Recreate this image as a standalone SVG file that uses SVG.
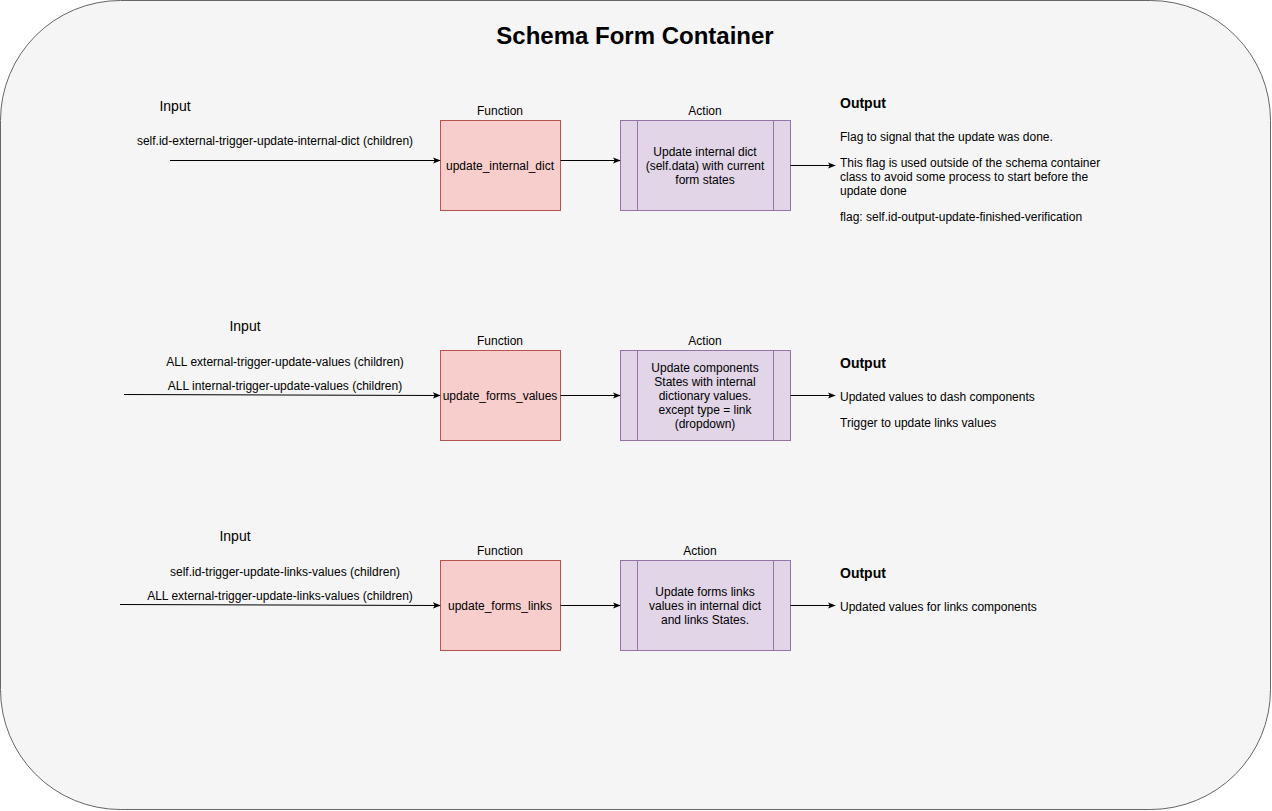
<svg xmlns="http://www.w3.org/2000/svg" width="1272" height="811" viewBox="0 0 1272 811">
  <defs>
    <marker id="arrow" viewBox="0 0 10 10" refX="9" refY="5" markerWidth="8" markerHeight="8" markerUnits="userSpaceOnUse" orient="auto">
      <path d="M0,1 L10,5 L0,9 L2.5,5 Z" fill="#000"/>
    </marker>
  </defs>
  <style>
    text { font-family: "Liberation Sans", Arial, sans-serif; fill: #000; }
    .t { font-size: 12px; }
    .c { text-anchor: middle; }
    .h { font-size: 14px; }
    .b { font-weight: bold; }
    .fn { fill: #f8cecc; stroke: #b85450; stroke-width: 1; }
    .act { fill: #e1d5e7; stroke: #9673a6; stroke-width: 1; }
    .edge { stroke: #000; stroke-width: 1; fill: none; marker-end: url(#arrow); }
  </style>

  <g id="container">
    <rect x="0.5" y="0.5" width="1270" height="809" rx="120" ry="120" fill="#f5f5f5" stroke="#666666"/>
    <text x="635" y="44" class="c b" font-size="24">Schema Form Container</text>
  </g>

  <!-- Row 1: update_internal_dict -->
  <g id="input1">
    <text x="175" y="111" class="h c">Input</text>
    <text x="275" y="145" class="t c">self.id-external-trigger-update-internal-dict (children)</text>
  </g>
  <g id="func1">
    <text x="500" y="115" class="t c">Function</text>
    <rect x="440.5" y="120.5" width="120" height="90" class="fn"/>
    <text x="500" y="170" class="t c">update_internal_dict</text>
  </g>
  <g id="action1">
    <text x="705" y="115" class="t c">Action</text>
    <rect x="620.5" y="120.5" width="170" height="90" class="act"/>
    <line x1="637.5" y1="120.5" x2="637.5" y2="210.5" stroke="#9673a6"/>
    <line x1="773.5" y1="120.5" x2="773.5" y2="210.5" stroke="#9673a6"/>
    <text x="705" y="156" class="t c">Update internal dict</text>
    <text x="705" y="170" class="t c">(self.data) with current</text>
    <text x="705" y="184" class="t c">form states</text>
  </g>
  <g id="output1">
    <text x="840" y="108" class="h b">Output</text>
    <text x="840" y="141" class="t">Flag to signal that the update was done.</text>
    <text x="840" y="167" class="t">This flag is used outside of the schema container</text>
    <text x="840" y="181" class="t">class to avoid some process to start before the</text>
    <text x="840" y="195" class="t">update done</text>
    <text x="840" y="221" class="t">flag: self.id-output-update-finished-verification</text>
  </g>

  <!-- Row 2: update_forms_values -->
  <g id="input2">
    <text x="245" y="331" class="h c">Input</text>
    <text x="285" y="366" class="t c">ALL external-trigger-update-values (children)</text>
    <text x="285" y="390" class="t c">ALL internal-trigger-update-values (children)</text>
  </g>
  <g id="func2">
    <text x="500" y="345" class="t c">Function</text>
    <rect x="440.5" y="350.5" width="120" height="90" class="fn"/>
    <text x="500" y="400" class="t c">update_forms_values</text>
  </g>
  <g id="action2">
    <text x="705" y="345" class="t c">Action</text>
    <rect x="620.5" y="350.5" width="170" height="90" class="act"/>
    <line x1="637.5" y1="350.5" x2="637.5" y2="440.5" stroke="#9673a6"/>
    <line x1="773.5" y1="350.5" x2="773.5" y2="440.5" stroke="#9673a6"/>
    <text x="705" y="372" class="t c">Update components</text>
    <text x="705" y="386" class="t c">States with internal</text>
    <text x="705" y="400" class="t c">dictionary values.</text>
    <text x="705" y="414" class="t c">except type = link</text>
    <text x="705" y="428" class="t c">(dropdown)</text>
  </g>
  <g id="output2">
    <text x="840" y="368" class="h b">Output</text>
    <text x="840" y="401" class="t">Updated values to dash components</text>
    <text x="840" y="427" class="t">Trigger to update links values</text>
  </g>

  <!-- Row 3: update_forms_links -->
  <g id="input3">
    <text x="235" y="541" class="h c">Input</text>
    <text x="285" y="576" class="t c">self.id-trigger-update-links-values (children)</text>
    <text x="280" y="600" class="t c">ALL external-trigger-update-links-values (children)</text>
  </g>
  <g id="func3">
    <text x="500" y="555" class="t c">Function</text>
    <rect x="440.5" y="560.5" width="120" height="90" class="fn"/>
    <text x="500" y="610" class="t c">update_forms_links</text>
  </g>
  <g id="action3">
    <text x="700" y="555" class="t c">Action</text>
    <rect x="620.5" y="560.5" width="170" height="90" class="act"/>
    <line x1="637.5" y1="560.5" x2="637.5" y2="650.5" stroke="#9673a6"/>
    <line x1="773.5" y1="560.5" x2="773.5" y2="650.5" stroke="#9673a6"/>
    <text x="705" y="596" class="t c">Update forms links</text>
    <text x="705" y="610" class="t c">values in internal dict</text>
    <text x="705" y="624" class="t c">and links States.</text>
  </g>
  <g id="output3">
    <text x="840" y="578" class="h b">Output</text>
    <text x="840" y="611" class="t">Updated values for links components</text>
  </g>

  <g id="connectors">
    <path d="M170,160.5 L440,160.5" class="edge"/>
    <path d="M560.5,160.5 L620,160.5" class="edge"/>
    <path d="M790.5,165.5 L835,165.5" class="edge"/>

    <path d="M124,394.5 L440,395.5" class="edge"/>
    <path d="M560.5,395.5 L620,395.5" class="edge"/>
    <path d="M790.5,395.5 L835,395.5" class="edge"/>

    <path d="M120,604.5 L440,605.5" class="edge"/>
    <path d="M560.5,605.5 L620,605.5" class="edge"/>
    <path d="M790.5,605.5 L835,605.5" class="edge"/>
  </g>
</svg>
